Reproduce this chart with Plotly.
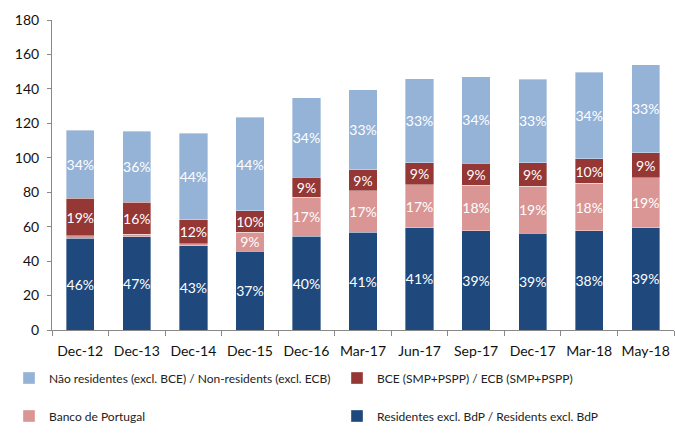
import plotly.graph_objects as go

categories = ["Dec-12", "Dec-13", "Dec-14", "Dec-15", "Dec-16", "Mar-17",
              "Jun-17", "Sep-17", "Dec-17", "Mar-18", "May-18"]

residentes = [53.4, 54.1, 49.0, 45.7, 54.3, 56.8, 59.4, 57.7, 56.3, 57.5, 59.5]
bdp = [1.2, 1.4, 1.0, 11.2, 22.8, 24.0, 25.0, 26.4, 27.3, 27.6, 29.0]
bce = [21.8, 18.7, 14.0, 12.2, 11.6, 12.2, 12.8, 12.8, 13.6, 14.3, 14.3]
nao_residentes = [39.6, 41.3, 50.3, 54.3, 46.3, 46.4, 48.6, 50.1, 48.4, 50.4, 51.2]

lbl_residentes = ["46%", "47%", "43%", "37%", "40%", "41%", "41%", "39%", "39%", "38%", "39%"]
lbl_bdp = ["", "", "", "9%", "17%", "17%", "17%", "18%", "19%", "18%", "19%"]
lbl_bce = ["19%", "16%", "12%", "10%", "9%", "9%", "9%", "9%", "9%", "10%", "9%"]
lbl_nao = ["34%", "36%", "44%", "44%", "34%", "33%", "33%", "34%", "33%", "34%", "33%"]

names = {
    "nao": "Não residentes (excl. BCE) / Non-residents (excl. ECB)",
    "bce": "BCE (SMP+PSPP) / ECB (SMP+PSPP)",
    "bdp": "Banco de Portugal",
    "res": "Residentes excl. BdP / Residents excl. BdP",
}

FONT = "Lato"
W, H = 675, 434
fig = go.Figure()

def add(vals, labels, name, color, legend):
    fig.add_trace(go.Bar(
        x=categories, y=vals, name=name, text=labels,
        textposition="inside", insidetextanchor="middle", textangle=0,
        constraintext="none", cliponaxis=False, showlegend=True,
        textfont=dict(color="white", size=14, family=FONT),
        marker=dict(color=color, line=dict(color="rgba(255,255,255,0.6)", width=0.6)),
        legend=legend, hoverinfo="x+y+name",
    ))

add(residentes, lbl_residentes, names["res"], "#1F497D", "legend4")
add(bdp, lbl_bdp, names["bdp"], "#D99694", "legend3")
add(bce, lbl_bce, names["bce"], "#953735", "legend2")
add(nao_residentes, lbl_nao, names["nao"], "#95B3D7", "legend")

def leg(px, py):
    return dict(
        visible=True,
        orientation="h", xref="container", yref="container",
        x=px / W, y=1 - py / H, xanchor="left", yanchor="middle",
        font=dict(family=FONT, size=12, color="#222"),
        bgcolor="rgba(0,0,0,0)", borderwidth=0,
    )

fig.update_layout(
    width=W, height=H, showlegend=True,
    margin=dict(l=52, r=1, t=20, b=104, autoexpand=False),
    paper_bgcolor="white", plot_bgcolor="white",
    barmode="stack", bargap=0.5,
    font=dict(family=FONT, size=14, color="#111"),
    legend=leg(9, 378),
    legend2=leg(337, 378),
    legend3=leg(9, 416),
    legend4=leg(337, 416),
    xaxis=dict(
        type="category", showline=True, linecolor="#888", linewidth=1,
        ticks="outside", tickson="boundaries", ticklen=5, tickcolor="#888",
        tickangle=0, automargin=False, ticklabelstandoff=8,
        tickfont=dict(family=FONT, size=14, color="#111"), showgrid=False,
    ),
    yaxis=dict(
        range=[0, 180], dtick=20, showline=True, linecolor="#888", linewidth=1,
        ticks="outside", ticklen=4, tickcolor="#888", showgrid=False,
        zeroline=False, automargin=False, ticklabelstandoff=5,
        tickfont=dict(family=FONT, size=14, color="#111"),
    ),
)

fig.write_html("out.html", config={"displayModeBar": False},
               post_script="document.body.style.margin='0';")
